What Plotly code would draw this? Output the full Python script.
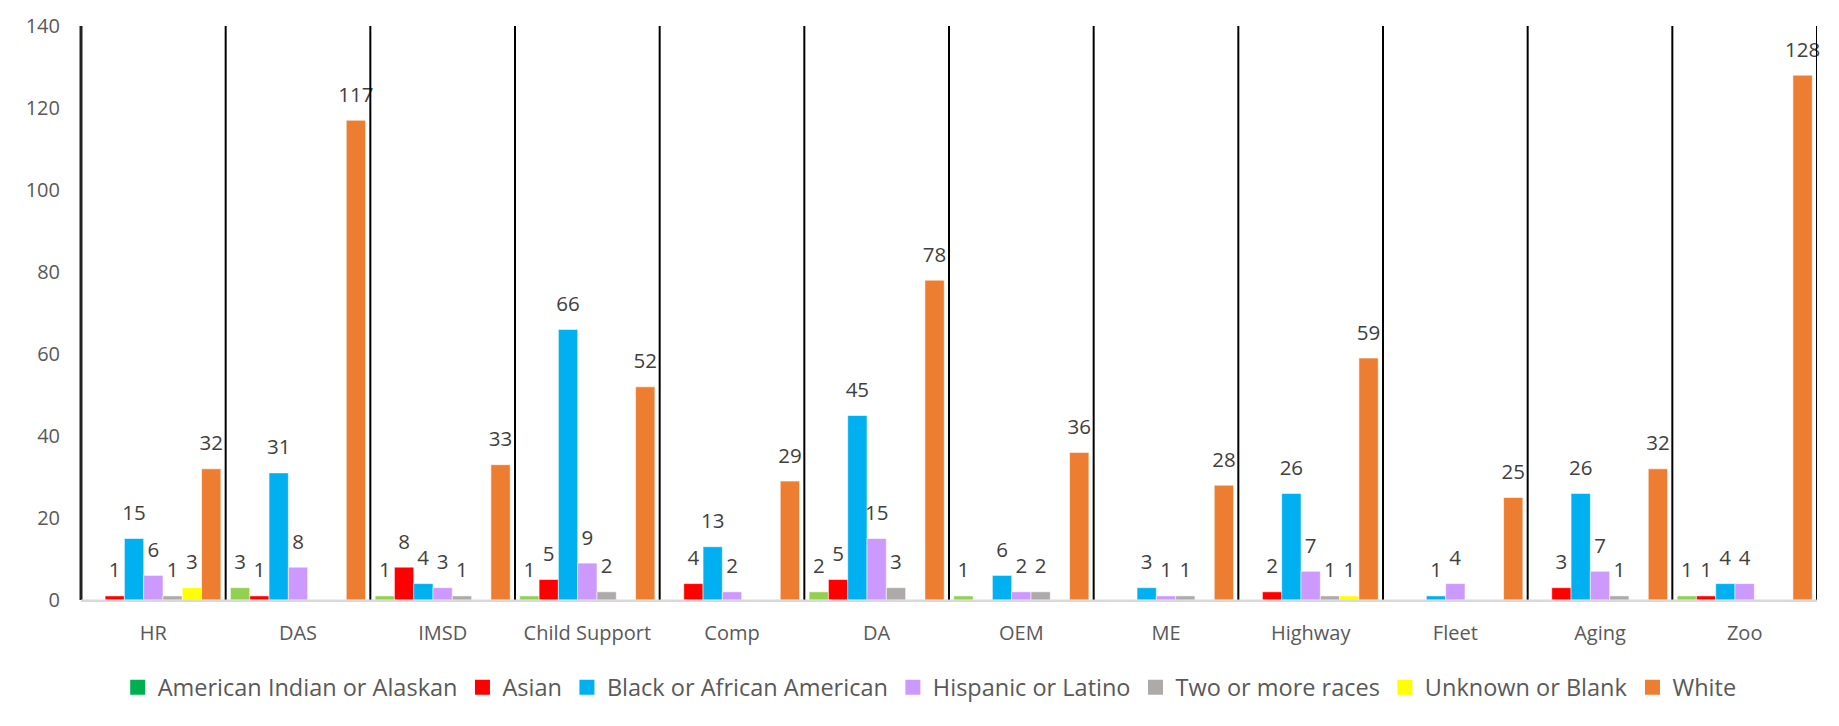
import plotly.graph_objects as go

categories = ["HR", "DAS", "IMSD", "Child Support", "Comp", "DA", "OEM", "ME",
              "Highway", "Fleet", "Aging", "Zoo"]

american_indian = [0, 3, 1, 1, 0, 2, 1, 0, 0, 0, 0, 1]
asian = [1, 1, 8, 5, 4, 5, 0, 0, 2, 0, 3, 1]
black = [15, 31, 4, 66, 13, 45, 6, 3, 26, 1, 26, 4]
hispanic = [6, 8, 3, 9, 2, 15, 2, 1, 7, 4, 7, 4]
two_or_more = [1, 0, 1, 2, 0, 3, 2, 1, 1, 0, 1, 0]
unknown = [3, 0, 0, 0, 0, 0, 0, 0, 1, 0, 0, 0]
white = [32, 117, 33, 52, 29, 78, 36, 28, 59, 25, 32, 128]

series_names = ["American Indian or Alaskan", "Asian", "Black or African American",
                "Hispanic or Latino", "Two or more races", "Unknown or Blank", "White"]
series_values = [american_indian, asian, black, hispanic, two_or_more, unknown, white]
bar_colors = ["#92D050", "#FF0000", "#00B0F0", "#CC99FF", "#AEAAAA", "#FFFF00", "#ED7D31"]
legend_colors = ["#00B050", "#FF0000", "#00B0F0", "#CC99FF", "#AEAAAA", "#FFFF00", "#ED7D31"]

y_ticks = [0, 20, 40, 60, 80, 100, 120, 140]
Y_MAX = 140

FONT = "Open Sans"
LABEL_GAP = 2.3  # extra space (axis units) between bar top and its data label

fig = go.Figure()
for k, (name, vals, col) in enumerate(zip(series_names, series_values, bar_colors)):
    fig.add_trace(go.Bar(
        x=categories, y=vals, name=name, showlegend=False, offsetgroup=str(k),
        marker=dict(color=col, line=dict(color="rgba(255,255,255,0.55)", width=1)),
        hoverinfo="x+y+name",
    ))
    # transparent spacer bar carrying the data label
    fig.add_trace(go.Bar(
        x=categories, y=[LABEL_GAP] * len(vals), base=vals, showlegend=False,
        offsetgroup=str(k), marker=dict(color="rgba(0,0,0,0)", line=dict(width=0)),
        text=[str(v) if v else "" for v in vals],
        textposition="outside", cliponaxis=False, constraintext="none",
        textfont=dict(family=FONT, size=20.5, color="#404040"),
        hoverinfo="skip",
    ))

for name, col in zip(series_names, legend_colors):
    fig.add_trace(go.Scatter(
        x=[None], y=[None], mode="markers", name=name,
        marker=dict(symbol="square", size=15, color=col),
    ))

# category separator lines
for i in range(len(categories) + 1):
    fig.add_shape(type="line", xref="x", yref="y", x0=i - 0.5, x1=i - 0.5,
                  y0=0, y1=Y_MAX, line=dict(color="black", width=2), layer="above")

# outer frame bits
fig.add_shape(type="line", xref="paper", yref="paper", x0=0, x1=0, y0=0, y1=1,
              line=dict(color="#222222", width=3))
fig.add_shape(type="line", xref="paper", yref="paper", x0=0, x1=1, y0=0, y1=0,
              line=dict(color="#D9D9D9", width=1))

fig.update_layout(
    width=1839, height=726,
    margin=dict(l=81, r=22, t=17, b=126),
    paper_bgcolor="white", plot_bgcolor="white",
    barmode="group", bargap=0.066, bargroupgap=0,
    font=dict(family=FONT, size=20, color="#595959"),
    xaxis=dict(
        type="category", range=[-0.5, len(categories) - 0.5],
        showgrid=False, showline=True, linecolor="#D9D9D9", linewidth=2,
        ticks="", tickfont=dict(size=20, color="#595959"),
        ticklabelstandoff=14, fixedrange=True,
    ),
    yaxis=dict(
        range=[0, Y_MAX], tickvals=y_ticks, showgrid=False, showline=False,
        zeroline=False, ticks="", tickfont=dict(size=20, color="#595959"),
        ticklabelstandoff=20, fixedrange=True,
    ),
    legend=dict(
        orientation="h", xref="container", yref="container",
        x=0.064, y=0.053, xanchor="left", yanchor="middle",
        font=dict(family=FONT, size=23.5, color="#595959"),
        itemwidth=30, tracegroupgap=0,
    ),
)

fig.write_html("out.html")
